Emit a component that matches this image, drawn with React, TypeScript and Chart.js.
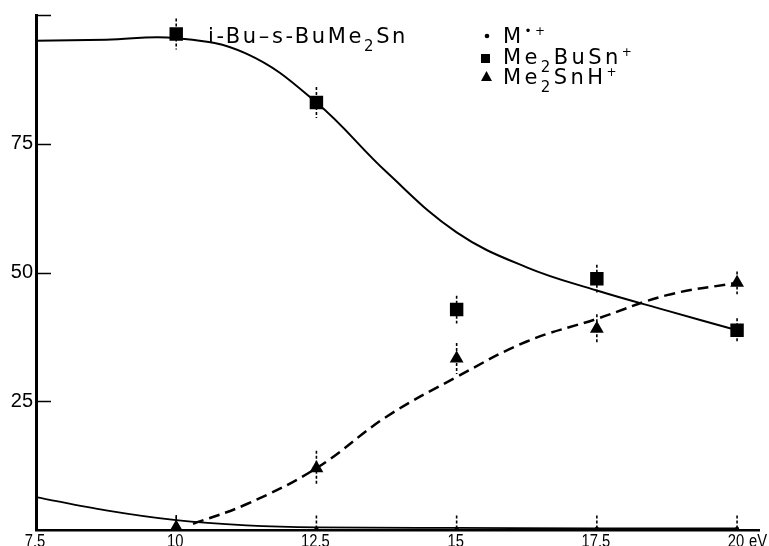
import React, { useEffect, useRef } from 'react';
import { Chart, registerables } from 'chart.js';

Chart.register(...registerables);

// measured points (electron energy in eV)
const energies = [10, 12.5, 15, 17.5, 20];
const me2BuSn = [96.3, 83, 42.8, 48.8, 38.8];
const me2BuSnErr = [3, 3, 2.7, 2.7, 2.3];
const me2SnH = [0.5, 12, 33.3, 39.1, 48];
const me2SnHErr = [2, 3.4, 3, 2.8, 2.2];
const mIon = [0.4, 0.3, 0.3, 0.3, 0.3];
const mIonErr = [2.5, 2.5, 2.5, 2.5, 2.5];

// hand-drawn fit curves
const curveBuSnX = [7.5, 8.75, 10, 11.25, 12.5, 13.75, 15, 16.25, 17.5, 18.75, 20];
const curveBuSnY = [95, 95.2, 95.5, 92.5, 83, 69.5, 57.8, 51, 46.5, 42.6, 38.8];
const curveSnHX = [10.3, 11.25, 12.5, 13.75, 15, 16.25, 17.5, 18.75, 20];
const curveSnHY = [1.2, 5, 12, 22, 29.7, 36.6, 41, 45.6, 48];
const curveMX = [7.5, 8.75, 10, 11.25, 12.5, 15, 17.5, 20];
const curveMY = [6.4, 3.8, 1.9, 0.9, 0.5, 0.4, 0.3, 0.3];

// axis ticks
const xTicks = [7.5, 10, 12.5, 15, 17.5, 20];
const xTickLabels = ['7.5', '10', '12.5', '15', '17.5', '20'];
const xUnit = 'eV';
const yTicks = [0, 25, 50, 75, 100];
const yTickLabels = ['', '25', '50', '75', ''];

const title = [
  { t: 'i-Bu–s-BuMe', k: 'n' },
  { t: '2', k: 'sub' },
  { t: 'Sn', k: 'n' },
];
const legendRows = [
  { marker: 'dot', parts: [{ t: 'M', k: 'n' }, { t: '•+', k: 'sup' }] },
  { marker: 'square', parts: [{ t: 'Me', k: 'n' }, { t: '2', k: 'sub' }, { t: 'BuSn', k: 'n' }, { t: '+', k: 'sup' }] },
  { marker: 'triangle', parts: [{ t: 'Me', k: 'n' }, { t: '2', k: 'sub' }, { t: 'SnH', k: 'n' }, { t: '+', k: 'sup' }] },
];

const pts = (xs: number[], ys: number[]) => xs.map((x, i) => ({ x, y: ys[i] }));

const BASE_FONT = '21px "DejaVu Sans"';
const SUB_FONT = '15px "DejaVu Sans"';
const SUP_FONT = '12px "DejaVu Sans"';

function drawRich(ctx: CanvasRenderingContext2D, x: number, baseline: number, parts: { t: string; k: string }[], spacing: number) {
  let cx = x;
  for (const p of parts) {
    let font = BASE_FONT;
    let y = baseline;
    if (p.k === 'sub') { font = SUB_FONT; y = baseline + 8; }
    if (p.k === 'sup') { font = SUP_FONT; y = baseline - 8; }
    ctx.font = font;
    (ctx as any).letterSpacing = spacing + 'px';
    ctx.fillText(p.t, cx, y);
    cx += ctx.measureText(p.t).width;
  }
  (ctx as any).letterSpacing = '0px';
}

const decorPlugin = {
  id: 'decor',
  beforeDatasetsDraw(chart: any) {
    const { ctx, chartArea, scales } = chart;
    const xs = scales.x, ys = scales.y;
    ctx.save();
    ctx.beginPath();
    ctx.rect(chartArea.left, chartArea.top - 5, chartArea.right - chartArea.left, chartArea.bottom - chartArea.top + 5);
    ctx.clip();
    ctx.strokeStyle = '#000';
    ctx.lineWidth = 1.6;
    ctx.setLineDash([3, 2]);
    const bars = [
      [me2BuSn, me2BuSnErr],
      [me2SnH, me2SnHErr],
      [mIon, mIonErr],
    ];
    for (const [vals, errs] of bars) {
      energies.forEach((e, i) => {
        const px = xs.getPixelForValue(e);
        ctx.beginPath();
        ctx.moveTo(px, ys.getPixelForValue(vals[i] + errs[i]));
        ctx.lineTo(px, ys.getPixelForValue(vals[i] - errs[i]));
        ctx.stroke();
      });
    }
    ctx.restore();
  },
  afterDraw(chart: any) {
    const { ctx, chartArea, scales } = chart;
    const xs = scales.x, ys = scales.y;
    ctx.save();
    // inward y tick marks
    ctx.strokeStyle = '#000';
    ctx.lineWidth = 1.5;
    for (const v of yTicks) {
      if (v === 0) continue;
      const py = Math.round(ys.getPixelForValue(v)) + 0.5;
      ctx.beginPath();
      ctx.moveTo(chartArea.left, py);
      ctx.lineTo(chartArea.left + 15, py);
      ctx.stroke();
    }
    // x tick labels (tall, narrow digits)
    ctx.fillStyle = '#000';
    ctx.font = '18px "Liberation Sans"';
    ctx.textBaseline = 'alphabetic';
    ctx.textAlign = 'center';
    const sx = 0.82;
    const by = chartArea.bottom + 17;
    xTicks.forEach((v, i) => {
      const px = xs.getPixelForValue(v);
      ctx.save();
      ctx.translate(px - 1, by);
      ctx.scale(sx, 1);
      ctx.fillText(xTickLabels[i], 0, 0);
      ctx.restore();
    });
    // unit label after last x tick
    const last = xTicks[xTicks.length - 1];
    ctx.save();
    ctx.translate(xs.getPixelForValue(last) + 12, by);
    ctx.scale(sx, 1);
    ctx.textAlign = 'left';
    ctx.fillText(xUnit, 0, 0);
    ctx.restore();
    // title
    ctx.textAlign = 'left';
    drawRich(ctx, 208, 43, title, 2.6);
    // legend
    const baselines = [43, 64, 84];
    legendRows.forEach((row, i) => {
      const b = baselines[i];
      ctx.fillStyle = '#000';
      if (row.marker === 'dot') {
        ctx.beginPath();
        ctx.arc(487, b - 7, 2.3, 0, Math.PI * 2);
        ctx.fill();
      } else if (row.marker === 'square') {
        ctx.fillRect(481, b - 10, 9, 9);
      } else {
        ctx.beginPath();
        ctx.moveTo(481, b - 3);
        ctx.lineTo(492, b - 3);
        ctx.lineTo(486.5, b - 13);
        ctx.closePath();
        ctx.fill();
      }
      drawRich(ctx, 503, b, row.parts, 3.4);
    });
    ctx.restore();
  },
};

export default function App() {
  const ref = useRef<HTMLCanvasElement>(null);
  useEffect(() => {
    if (!ref.current) return;
    const chart = new Chart(ref.current, {
      type: 'scatter',
      data: {
        datasets: [
          { label: 'Me2BuSn+', data: pts(energies, me2BuSn), pointStyle: 'rect', pointRadius: 9.5, backgroundColor: '#000', borderColor: '#000', borderWidth: 0, showLine: false },
          { label: 'Me2SnH+', data: pts(energies, me2SnH), pointStyle: 'triangle', pointRadius: 8, backgroundColor: '#000', borderColor: '#000', borderWidth: 0, showLine: false },
          { label: 'M•+', data: pts(energies, mIon), pointStyle: 'circle', pointRadius: 2, backgroundColor: '#000', borderColor: '#000', borderWidth: 0, showLine: false },
          { label: 'fit Me2BuSn+', data: pts(curveBuSnX, curveBuSnY), showLine: true, pointRadius: 0, borderColor: '#000', borderWidth: 2, tension: 0.4, fill: false },
          { label: 'fit Me2SnH+', data: pts(curveSnHX, curveSnHY), showLine: true, pointRadius: 0, borderColor: '#000', borderWidth: 2.5, borderDash: [11, 6], tension: 0.4, fill: false },
          { label: 'fit M•+', data: pts(curveMX, curveMY), showLine: true, pointRadius: 0, borderColor: '#000', borderWidth: 1.8, cubicInterpolationMode: 'monotone', fill: false },
        ],
      },
      options: {
        animation: false,
        responsive: true,
        maintainAspectRatio: false,
        events: [],
        layout: { padding: { top: 14, right: 8, left: 0, bottom: 0 } },
        plugins: { legend: { display: false }, tooltip: { enabled: false } },
        scales: {
          x: {
            type: 'linear',
            min: 7.5,
            max: 20.4,
            afterBuildTicks: (s: any) => { s.ticks = xTicks.map((v) => ({ value: v })); },
            afterFit: (s: any) => { s.height = 16; },
            grid: { display: false, drawTicks: false },
            border: { display: true, color: '#000', width: 2.5 },
            ticks: { display: false },
          },
          y: {
            type: 'linear',
            min: 0,
            max: 100,
            afterBuildTicks: (s: any) => { s.ticks = yTicks.map((v) => ({ value: v })); },
            afterFit: (s: any) => { s.width = 36; },
            grid: { display: false, drawTicks: false },
            border: { display: true, color: '#000', width: 3 },
            ticks: {
              padding: 3,
              color: '#000',
              font: { family: 'Liberation Sans', size: 20 },
              callback: (_v: any, i: number) => yTickLabels[i],
            },
          },
        },
      },
      plugins: [decorPlugin],
    } as any);
    return () => chart.destroy();
  }, []);
  return (
    <div style={{ position: 'absolute', left: 0, top: 0, width: 769, height: 546, background: '#fff' }}>
      <canvas ref={ref} />
    </div>
  );
}
